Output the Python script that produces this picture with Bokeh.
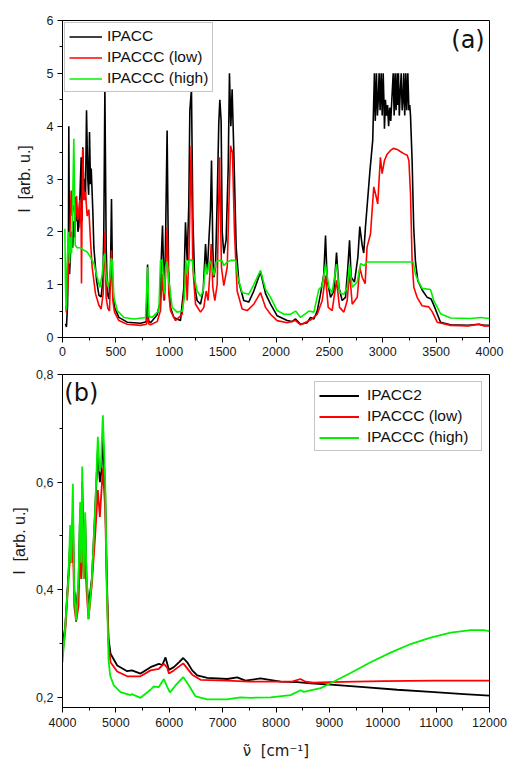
from bokeh.plotting import figure
from bokeh.models import FixedTicker, Legend, LegendItem, Label, Range1d
from bokeh.layouts import column
from bokeh.embed import file_html
from bokeh.resources import INLINE

# ---------------- panel (a) data: wavenumber [cm-1] / intensity [arb. u.]
ipacc_a_x = [28, 37, 47, 56, 59, 66, 75, 85, 95, 105, 115, 122, 130, 137, 145, 153, 162, 175, 182, 190,
             200, 206, 215, 225, 237, 245, 253, 262, 269, 284, 294, 319, 341, 362, 378, 387, 397, 409, 419, 434,
             450, 459, 469, 487, 528, 606, 731, 785, 797, 806, 825, 887, 912, 928, 937, 943, 955, 965, 980, 993,
             1012, 1043, 1105, 1137, 1152, 1168, 1183, 1193, 1208, 1221, 1240, 1261, 1293, 1318, 1340, 1355, 1371, 1386, 1396, 1408,
             1418, 1433, 1449, 1464, 1474, 1486, 1496, 1511, 1533, 1552, 1564, 1577, 1589, 1605, 1627, 1652, 1698, 1745, 1792, 1855,
             1902, 1949, 2011, 2105, 2150, 2183, 2230, 2292, 2323, 2355, 2386, 2417, 2448, 2464, 2479, 2511, 2542, 2567, 2589, 2620,
             2651, 2673, 2689, 2704, 2735, 2767, 2785, 2807, 2822, 2838, 2853, 2879, 2906, 2922, 2930, 2941, 2950, 2958, 2966, 2975,
             2985, 2995, 3004, 3012, 3016, 3025, 3035, 3045, 3055, 3065, 3075, 3085, 3098, 3107, 3116, 3125, 3135, 3141, 3147, 3155,
             3163, 3173, 3182, 3190, 3197, 3206, 3216, 3225, 3235, 3245, 3253, 3260, 3275, 3290, 3306, 3328, 3369, 3416, 3453, 3485,
             3541, 3635, 3800, 3900, 3950, 4000]
ipacc_a_y = [0.26, 0.2, 0.6, 2.0, 4.0, 1.2, 1.6, 2.0, 1.7, 2.2, 1.9, 2.66, 2.2, 2.4, 2.0, 2.1, 2.6, 3.41, 2.2, 3.6,
             2.8, 3.0, 2.6, 4.3, 3.0, 2.7, 3.89, 2.9, 3.2, 2.4, 1.7, 1.08, 0.8, 0.77, 1.08, 2.0, 4.7, 1.75, 0.85, 0.73,
             1.3, 2.62, 1.0, 0.57, 0.38, 0.29, 0.27, 0.3, 1.38, 0.32, 0.28, 0.43, 0.65, 1.65, 2.12, 1.6, 0.7, 1.8, 3.92, 1.3,
             0.57, 0.38, 0.32, 0.95, 2.18, 1.46, 2.5, 4.3, 4.7, 2.27, 0.95, 0.7, 0.63, 0.88, 1.77, 1.2, 1.83, 2.4, 3.35, 1.7,
             1.14, 1.33, 2.59, 4.05, 4.5, 4.1, 2.0, 1.59, 1.85, 3.2, 5.0, 4.0, 4.7, 3.5, 1.7, 1.05, 0.7, 0.67, 0.88, 1.24,
             0.83, 0.63, 0.41, 0.32, 0.3, 0.35, 0.25, 0.28, 0.38, 0.35, 0.5, 0.82, 1.2, 1.93, 1.08, 0.76, 0.88, 1.61, 0.95, 0.7,
             0.76, 1.33, 1.84, 1.14, 1.05, 1.52, 2.1, 1.75, 1.6, 2.09, 2.47, 3.13, 3.73, 5.0, 4.1, 5.0, 4.2, 4.5, 5.0, 4.3,
             5.0, 4.2, 5.0, 4.4, 3.95, 4.5, 4.2, 4.4, 4.0, 4.35, 4.1, 4.5, 5.0, 4.2, 5.0, 4.3, 5.0, 4.4, 5.0, 4.2,
             4.6, 5.0, 4.3, 4.5, 5.0, 4.2, 5.0, 4.3, 5.0, 4.3, 4.4, 4.2, 3.35, 2.09, 1.45, 1.08, 0.9, 0.76, 0.73, 0.58,
             0.29, 0.24, 0.23, 0.25, 0.23, 0.23]

low_a_x = [30, 37, 50, 65, 81, 91, 100, 112, 122, 131, 144, 162, 175, 178, 184, 190, 200, 215, 231, 247,
           262, 278, 309, 341, 362, 381, 397, 409, 425, 440, 459, 472, 487, 528, 606, 731, 785, 797, 806, 825,
           887, 918, 934, 949, 965, 980, 996, 1012, 1058, 1121, 1146, 1155, 1168, 1186, 1205, 1221, 1246, 1293, 1324, 1346,
           1364, 1380, 1393, 1408, 1427, 1449, 1471, 1489, 1511, 1543, 1574, 1592, 1611, 1636, 1683, 1730, 1792, 1855, 1902, 1949,
           2011, 2105, 2183, 2230, 2323, 2386, 2433, 2464, 2489, 2526, 2567, 2595, 2636, 2667, 2689, 2714, 2761, 2785, 2807, 2835,
           2853, 2885, 2916, 2932, 2953, 2978, 2994, 3016, 3041, 3072, 3100, 3135, 3165, 3197, 3229, 3245, 3260, 3275, 3291, 3322,
           3369, 3431, 3463, 3510, 3635, 3800, 3900, 3950, 4000]
low_a_y = [0.6, 0.47, 0.98, 1.7, 2.78, 2.3, 2.5, 2.42, 2.2, 2.68, 2.22, 2.6, 2.04, 1.02, 2.6, 3.57, 2.6, 2.75, 2.3, 2.42,
           1.84, 1.33, 0.83, 0.61, 0.54, 0.83, 1.99, 0.75, 0.55, 0.5, 1.65, 0.7, 0.48, 0.32, 0.25, 0.23, 0.25, 0.42, 0.26, 0.24,
           0.3, 0.51, 1.2, 0.7, 1.14, 2.09, 0.82, 0.51, 0.32, 0.44, 1.08, 1.33, 0.7, 1.65, 3.63, 1.33, 0.63, 0.48, 0.57, 0.88,
           0.7, 1.2, 1.77, 0.95, 0.7, 1.0, 3.41, 1.33, 0.98, 1.33, 3.63, 3.5, 2.0, 0.88, 0.54, 0.51, 0.63, 0.85, 0.57, 0.44,
           0.32, 0.28, 0.32, 0.24, 0.33, 0.44, 0.7, 1.17, 0.57, 0.51, 1.08, 0.57, 0.48, 0.7, 1.24, 0.63, 0.76, 1.33, 1.14, 1.02,
           1.71, 1.96, 2.85, 2.72, 2.53, 3.41, 3.1, 3.35, 3.47, 3.54, 3.58, 3.56, 3.52, 3.48, 3.45, 3.35, 2.72, 1.46, 0.95, 0.76,
           0.6, 0.58, 0.49, 0.29, 0.23, 0.22, 0.25, 0.22, 0.22]

high_a_x = [22, 28, 34, 42, 50, 59, 66, 75, 85, 95, 106, 119, 137, 169, 200, 231, 262, 294, 325, 350,
            372, 387, 397, 409, 428, 444, 456, 466, 481, 512, 575, 669, 778, 797, 809, 840, 903, 918, 934, 955,
            965, 980, 996, 1027, 1074, 1121, 1143, 1155, 1168, 1183, 1215, 1230, 1261, 1293, 1318, 1340, 1355, 1371, 1386, 1402,
            1418, 1439, 1464, 1496, 1511, 1543, 1574, 1621, 1642, 1683, 1745, 1792, 1855, 1902, 1949, 2011, 2074, 2136, 2183, 2230,
            2308, 2355, 2401, 2433, 2464, 2495, 2526, 2567, 2595, 2636, 2667, 2689, 2714, 2761, 2792, 2823, 2853, 3285, 3306, 3338,
            3369, 3447, 3478, 3541, 3635, 3822, 3916, 4000]
high_a_y = [2.06, 1.0, 0.51, 1.3, 1.7, 2.0, 1.4, 1.9, 1.6, 2.5, 3.76, 1.75, 1.7, 1.7, 1.65, 1.62, 1.52, 1.4, 1.14, 0.95,
            1.2, 1.52, 1.59, 1.14, 0.95, 1.14, 1.5, 1.46, 0.77, 0.51, 0.38, 0.35, 0.38, 1.33, 0.4, 0.38, 0.51, 1.46, 1.46, 0.83,
            1.33, 1.43, 1.08, 0.57, 0.48, 0.5, 0.77, 1.46, 1.2, 1.46, 1.47, 1.2, 0.88, 0.78, 0.88, 1.39, 1.2, 1.39, 1.45, 1.33,
            1.17, 1.43, 1.46, 1.45, 1.36, 1.43, 1.46, 1.46, 1.14, 0.85, 0.82, 1.0, 1.27, 0.91, 0.76, 0.51, 0.44, 0.44, 0.5, 0.38,
            0.5, 0.48, 0.91, 0.98, 1.39, 0.95, 0.85, 1.39, 0.85, 0.82, 0.95, 1.38, 0.95, 1.05, 1.4, 1.36, 1.43, 1.43, 1.2, 1.05,
            0.93, 0.91, 0.7, 0.45, 0.37, 0.36, 0.38, 0.36]

# ---------------- panel (b) data
ipacc2_b_x = [4000, 4050, 4112, 4150, 4170, 4194, 4220, 4256, 4300, 4331, 4350, 4369, 4400, 4425, 4450, 4487, 4550, 4612, 4662, 4700,
              4730, 4756, 4800, 4831, 4862, 4900, 5025, 5212, 5300, 5462, 5649, 5805, 5870, 5930, 5993, 6086, 6180, 6262, 6337, 6430,
              6524, 6712, 7087, 7273, 7429, 7710, 8085, 8398, 8648, 9022, 9647, 10272, 10897, 11522, 12000]
ipacc2_b_y = [0.30, 0.33, 0.43, 0.50, 0.46, 0.54, 0.40, 0.365, 0.41, 0.55, 0.45, 0.60, 0.46, 0.53, 0.42, 0.37, 0.42, 0.55, 0.66, 0.60,
              0.62, 0.69, 0.58, 0.42, 0.31, 0.281, 0.259, 0.2485, 0.25, 0.244, 0.256, 0.262, 0.26, 0.274, 0.251, 0.256, 0.265, 0.273, 0.265, 0.25,
              0.2405, 0.236, 0.234, 0.237, 0.231, 0.235, 0.229, 0.228, 0.226, 0.2235, 0.219, 0.214, 0.21, 0.206, 0.203]

low_b_x = [4000, 4050, 4112, 4150, 4170, 4194, 4220, 4256, 4300, 4331, 4350, 4369, 4400, 4425, 4450, 4487, 4550, 4612, 4662, 4700,
           4756, 4800, 4831, 4862, 4900, 5025, 5212, 5462, 5649, 5805, 5899, 5962, 5993, 6086, 6262, 6430, 6587, 7087, 7500, 8300,
           8460, 8550, 8700, 9000, 10000, 11000, 12000]
low_b_y = [0.28, 0.32, 0.42, 0.47, 0.45, 0.50, 0.37, 0.34, 0.37, 0.49, 0.42, 0.49, 0.42, 0.47, 0.40, 0.345, 0.41, 0.50, 0.585, 0.535,
           0.625, 0.55, 0.40, 0.30, 0.265, 0.248, 0.239, 0.239, 0.25, 0.253, 0.262, 0.255, 0.244, 0.25, 0.263, 0.242, 0.2325, 0.231, 0.229, 0.229,
           0.234, 0.229, 0.227, 0.228, 0.23, 0.231, 0.231]

high_b_x = [4000, 4050, 4112, 4144, 4162, 4194, 4219, 4256, 4300, 4331, 4350, 4369, 4394, 4425, 4444, 4487, 4550, 4612, 4662, 4694,
            4719, 4756, 4800, 4831, 4862, 4894, 4962, 5087, 5274, 5300, 5462, 5649, 5706, 5805, 5899, 5949, 6012, 6118, 6262, 6368,
            6493, 6712, 7081, 7331, 7523, 7898, 8273, 8460, 8520, 8835, 9022, 9397, 9772, 10147, 10522, 10897, 11272, 11647, 11890, 12000]
high_b_y = [0.265, 0.33, 0.424, 0.52, 0.45, 0.597, 0.40, 0.343, 0.42, 0.563, 0.45, 0.629, 0.42, 0.544, 0.45, 0.345, 0.42, 0.55, 0.684, 0.62,
            0.63, 0.724, 0.60, 0.40, 0.27, 0.24, 0.222, 0.2095, 0.204, 0.206, 0.199, 0.214, 0.22, 0.219, 0.234, 0.222, 0.209, 0.222, 0.2375, 0.222,
            0.2015, 0.196, 0.196, 0.20, 0.199, 0.20, 0.204, 0.213, 0.21, 0.217, 0.226, 0.245, 0.265, 0.283, 0.299, 0.311, 0.32, 0.325, 0.325, 0.323]

labels_a = ["IPACC", "IPACCC (low)", "IPACCC (high)"]
labels_b = ["IPACC2", "IPACCC (low)", "IPACCC (high)"]
colors = ["#000000", "#ff0000", "#00f000"]

a_xticks = [0, 500, 1000, 1500, 2000, 2500, 3000, 3500, 4000]
a_yticks = [0, 1, 2, 3, 4, 5, 6]
b_xticks = [4000, 5000, 6000, 7000, 8000, 9000, 10000, 11000, 12000]
b_yticks = [0.2, 0.4, 0.6, 0.8]
b_ytick_labels = ["0,2", "0,4", "0,6", "0,8"]

for xs, ys in [(ipacc_a_x, ipacc_a_y), (low_a_x, low_a_y), (high_a_x, high_a_y),
               (ipacc2_b_x, ipacc2_b_y), (low_b_x, low_b_y), (high_b_x, high_b_y)]:
    assert len(xs) == len(ys), (len(xs), len(ys))

FONT = "Liberation Sans"
NB = "\u00a0"


def style(p):
    p.xgrid.visible = False
    p.ygrid.visible = False
    p.outline_line_color = "black"
    p.outline_line_width = 1
    p.outline_line_alpha = 1
    p.background_fill_color = "white"
    p.border_fill_color = "white"
    for ax in (p.xaxis[0], p.yaxis[0]):
        ax.axis_line_color = "black"
        ax.axis_line_width = 1
        ax.major_tick_in = 0
        ax.major_tick_out = 5
        ax.minor_tick_in = 0
        ax.minor_tick_out = 3
        ax.major_tick_line_color = "black"
        ax.minor_tick_line_color = "black"
        ax.major_label_text_font = FONT
        ax.major_label_text_font_size = "12.5px"
        ax.major_label_text_color = "#1a1a1a"
        ax.major_label_standoff = 4
        ax.axis_label_text_font = FONT
        ax.axis_label_text_font_size = "16px"
        ax.axis_label_text_font_style = "normal"
        ax.axis_label_text_color = "#1a1a1a"


ylabel = "I" + NB + NB + "[arb. u.]"

# ---------------- figure (a)
p1 = figure(frame_width=427, frame_height=317, x_range=Range1d(0, 4000), y_range=Range1d(0, 6),
            output_backend="svg", toolbar_location=None,
            min_border_left=62, min_border_right=19, min_border_top=20, min_border_bottom=25)
style(p1)
p1.xaxis.ticker = FixedTicker(ticks=a_xticks, minor_ticks=[v + 250 for v in a_xticks[:-1]])
p1.yaxis.ticker = FixedTicker(ticks=a_yticks, minor_ticks=[v + 0.5 for v in a_yticks[:-1]])
p1.yaxis.axis_label = ylabel
p1.yaxis.axis_label_standoff = 11

rs = []
for xs, ys, c in [(ipacc_a_x, ipacc_a_y, colors[0]), (low_a_x, low_a_y, colors[1]), (high_a_x, high_a_y, colors[2])]:
    rs.append(p1.line(xs, ys, line_color=c, line_width=1.6))

leg1 = Legend(items=[LegendItem(label=l, renderers=[r]) for l, r in zip(labels_a, rs)],
              location="top_left", margin=2, padding=4, spacing=3,
              glyph_width=33, glyph_height=17, label_height=17, label_standoff=5,
              label_text_font=FONT, label_text_font_size="15.5px", label_text_color="#111111",
              border_line_color="#8c8c8c", border_line_width=1, background_fill_color="white",
              background_fill_alpha=1)
p1.add_layout(leg1)
p1.add_layout(Label(x=3955, y=5.64, text="(a)", text_align="right", text_baseline="middle",
                    text_font="DejaVu Sans", text_font_size="24px", text_color="#111111"))

# ---------------- figure (b)
p2 = figure(frame_width=427, frame_height=333, x_range=Range1d(4000, 12000), y_range=Range1d(0.181, 0.8),
            output_backend="svg", toolbar_location=None,
            min_border_left=62, min_border_right=19, min_border_top=12, min_border_bottom=53)
style(p2)
p2.xaxis.ticker = FixedTicker(ticks=b_xticks, minor_ticks=[v + 500 for v in b_xticks[:-1]])
p2.yaxis.ticker = FixedTicker(ticks=b_yticks, minor_ticks=[0.3, 0.5, 0.7])
p2.yaxis.major_label_overrides = {v: s for v, s in zip(b_yticks, b_ytick_labels)}
p2.yaxis.axis_label = ylabel
p2.yaxis.axis_label_standoff = 5
p2.xaxis.axis_label = "\u03bd\u0303" + NB + NB + "[cm\u207b\u00b9]"
p2.xaxis.axis_label_text_font = "DejaVu Sans"
p2.xaxis.axis_label_text_font_size = "15px"
p2.xaxis.axis_label_standoff = 12
p2.xaxis.major_label_standoff = 5

rs2 = []
for xs, ys, c in [(ipacc2_b_x, ipacc2_b_y, colors[0]), (low_b_x, low_b_y, colors[1]), (high_b_x, high_b_y, colors[2])]:
    rs2.append(p2.line(xs, ys, line_color=c, line_width=1.8))

leg2 = Legend(items=[LegendItem(label=l, renderers=[r]) for l, r in zip(labels_b, rs2)],
              location="top_right", margin=7, padding=4, spacing=3,
              glyph_width=40, glyph_height=17, label_height=17, label_standoff=8, label_width=110,
              label_text_font=FONT, label_text_font_size="15.5px", label_text_color="#111111",
              border_line_color="#8c8c8c", border_line_width=1, background_fill_color="white",
              background_fill_alpha=1)
p2.add_layout(leg2)
p2.add_layout(Label(x=4035, y=0.7665, text="(b)", text_align="left", text_baseline="middle",
                    text_font="DejaVu Sans", text_font_size="24px", text_color="#111111"))

layout = column(p1, p2, spacing=0)
open("out.html", "w").write(file_html(layout, INLINE))
